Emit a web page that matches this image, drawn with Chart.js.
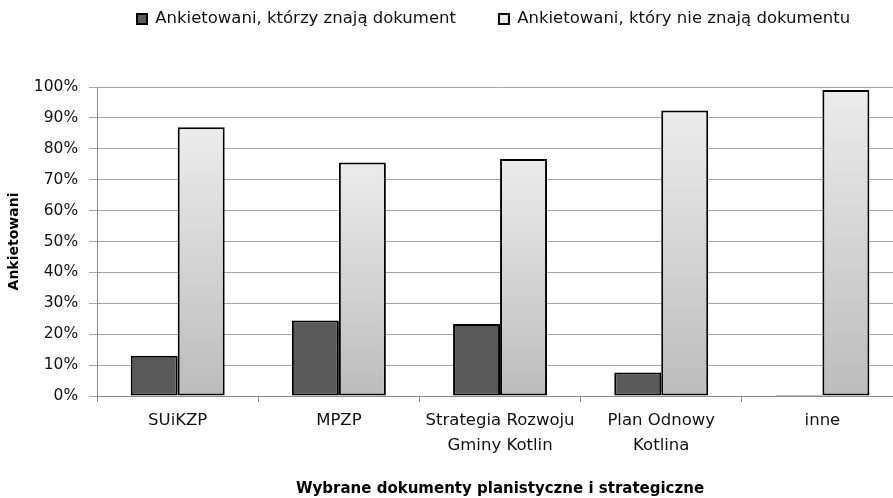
<!DOCTYPE html>
<html>
<head>
<meta charset="utf-8">
<script src="https://cdn.jsdelivr.net/npm/chart.js@4.4.0/dist/chart.umd.min.js"></script>
<style>
  html, body { margin: 0; padding: 0; background: #fff; overflow: hidden; }
  #wrap { width: 905px; height: 498px; }
</style>
</head>
<body>
<div id="wrap"><canvas id="chart" width="905" height="498"></canvas></div>
<script>
// categories (documents) and shares of respondents, in %
const categories = ['SUiKZP', 'MPZP', ['Strategia Rozwoju', 'Gminy Kotlin'], ['Plan Odnowy', 'Kotlina'], 'inne'];
const knowValues = [13, 24.4, 23.3, 7.6, 0];
const dontKnowValues = [87, 75.6, 76.7, 92.4, 99];
const seriesLabels = ['Ankietowani, którzy znają dokument', 'Ankietowani, który nie znają dokumentu'];
const yTitle = 'Ankietowani';
const xTitle = 'Wybrane dokumenty planistyczne i strategiczne';

const FONT = '"DejaVu Sans", sans-serif';

// light bars get a vertical grey gradient, bar by bar
function lightFill(ctx)
{
    const chart = ctx.chart;
    if (ctx.type !== 'data' || !chart.chartArea) return '#e3e3e3';
    const y = chart.scales.y;
    const top = y.getPixelForValue(ctx.parsed.y);
    const bottom = y.getPixelForValue(0);
    const g = chart.ctx.createLinearGradient(0, top, 0, bottom);
    g.addColorStop(0, '#ececec');
    g.addColorStop(1, '#bcbcbc');
    return g;
}

// move the legend where the original has it, above the plot
const legendPlace = {
    id: 'legendPlace',
    afterLayout(chart)
    {
        const lg = chart.legend;
        const pad = lg.options.labels.padding;
        const w = lg.right - lg.left;
        lg.left = 137 - pad;
        lg.right = lg.left + w;
        lg.top = 10.75 - pad;
    }
};

new Chart(document.getElementById('chart'),
{
    type: 'bar',
    data:
    {
        labels: categories,
        datasets:
        [
            {
                label: seriesLabels[0],
                data: knowValues,
                backgroundColor: '#595959',
                borderColor: '#000000',
                borderWidth: 2,
                borderSkipped: false,
                minBarLength: 1
            },
            {
                label: seriesLabels[1],
                data: dontKnowValues,
                backgroundColor: lightFill,
                borderColor: '#000000',
                borderWidth: 2,
                borderSkipped: false
            }
        ]
    },
    options:
    {
        responsive: false,
        animation: false,
        layout: {padding: {top: 17.5, left: 0, right: 2, bottom: 0}},
        datasets: {bar: {categoryPercentage: 0.583, barPercentage: 1}},
        plugins:
        {
            tooltip: {enabled: false},
            legend:
            {
                position: 'top',
                align: 'start',
                labels:
                {
                    boxWidth: 10,
                    boxHeight: 10,
                    padding: 43,
                    color: '#111',
                    font: {family: FONT, size: 16.5}
                }
            }
        },
        scales:
        {
            x:
            {
                grid: {display: true, drawOnChartArea: false, offset: true, tickLength: 6, color: '#8c8c8c'},
                border: {color: '#8c8c8c'},
                ticks: {color: '#111', padding: 6, font: {family: FONT, size: 16.5, lineHeight: 1.515}, maxRotation: 0},
                title: {display: true, text: xTitle, color: '#000', font: {family: FONT, size: 15, weight: 'bold'}, padding: {top: 16, bottom: 0}}
            },
            y:
            {
                min: 0,
                max: 100,
                ticks: {stepSize: 10, callback: v => v + '%', color: '#111', padding: 11, font: {family: FONT, size: 15.5}},
                grid: {color: '#a6a6a6', tickLength: 8},
                border: {color: '#8c8c8c'},
                title: {display: true, text: yTitle, color: '#000', font: {family: FONT, size: 14, weight: 'bold'}, padding: {top: 6, bottom: 0}}
            }
        }
    },
    plugins: [legendPlace]
});
</script>
</body>
</html>
